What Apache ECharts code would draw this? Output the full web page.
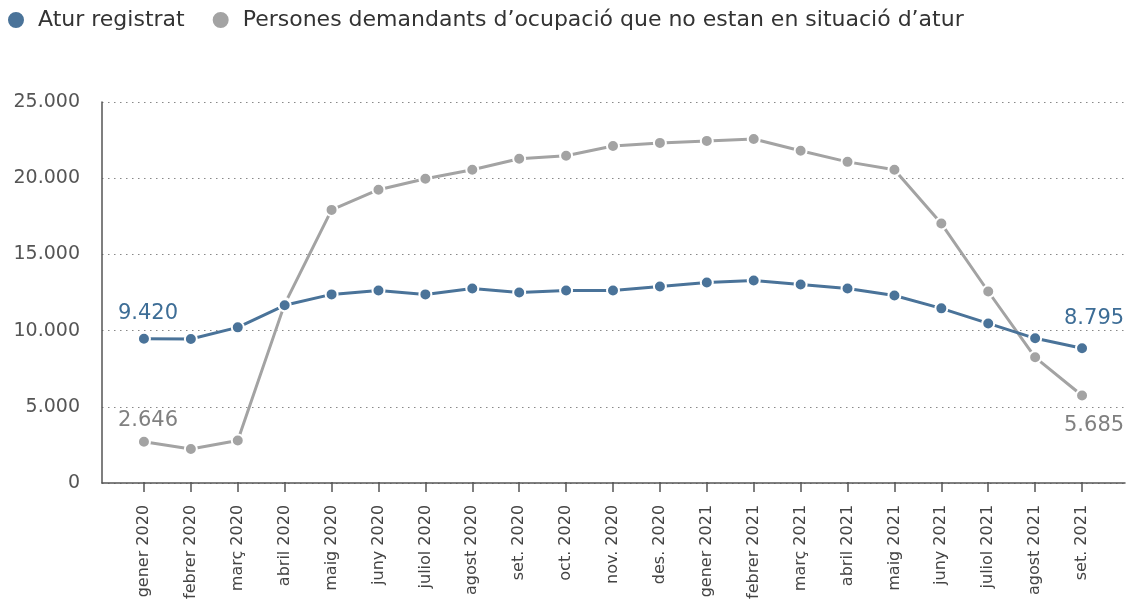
<!DOCTYPE html>
<html>
<head>
<meta charset="utf-8">
<script src="https://cdn.jsdelivr.net/npm/echarts@6/dist/echarts.min.js"></script>
<style>
  html, body { margin: 0; padding: 0; background: #fff; }
  #chart { width: 1133px; height: 602px; }
</style>
</head>
<body>
<div id="chart"></div>
<script>
const months = ['gener 2020', 'febrer 2020', 'març 2020', 'abril 2020', 'maig 2020', 'juny 2020',
  'juliol 2020', 'agost 2020', 'set. 2020', 'oct. 2020', 'nov. 2020', 'des. 2020',
  'gener 2021', 'febrer 2021', 'març 2021', 'abril 2021', 'maig 2021', 'juny 2021',
  'juliol 2021', 'agost 2021', 'set. 2021'];

const aturRegistrat = [9420, 9400, 10170, 11620, 12340, 12600, 12340, 12730, 12470, 12600, 12600,
  12860, 13120, 13250, 12990, 12730, 12270, 11420, 10430, 9450, 8795];

const noAtur = [2646, 2170, 2720, 11700, 17900, 19230, 19950, 20540, 21260, 21460, 22110,
  22310, 22440, 22570, 21790, 21060, 20540, 17000, 12530, 8200, 5685];

const BLUE = '#4a7399';
const GREY = '#a3a3a3';
const FONT = '"DejaVu Sans", "Open Sans", sans-serif';

function fmt(v) {
  return String(v).replace(/\B(?=(\d{3})+(?!\d))/g, '.');
}

// etiquetes només al primer i a l'últim punt
function withEndLabels(values, color, distFirst, distLast, posLast) {
  return values.map((v, i) => {
    if (i === 0 || i === values.length - 1) {
      const above = i === 0 || posLast === 'top';
      return {
        value: v,
        label: {
          show: true,
          position: above ? 'top' : 'bottom',
          distance: i === 0 ? distFirst : distLast,
          offset: i === 0 ? [4, 0] : [12, 0],
          formatter: fmt(v),
          color: color,
          fontSize: 21,
          fontFamily: FONT
        }
      };
    }
    return v;
  });
}

const chart = echarts.init(document.getElementById('chart'));

chart.setOption({
  animation: false,
  textStyle: { fontFamily: FONT },
  legend: {
    left: 6,
    top: 9,
    padding: 0,
    itemGap: 26,
    itemWidth: 18,
    itemHeight: 18,
    icon: 'circle',
    textStyle: { fontSize: 22, color: '#333', fontFamily: FONT, padding: [0, 0, 0, 8] },
    data: ['Atur registrat', 'Persones demandants d\u2019ocupació que no estan en situació d\u2019atur']
  },
  grid: [
    { left: 102, right: 8, top: 102, bottom: 119 },
    { left: 120.5, right: 27.5, top: 102, bottom: 119 }
  ],
  xAxis: [
    {
      gridIndex: 0,
      type: 'value',
      min: 0,
      max: 1,
      axisLine: { show: true, lineStyle: { color: '#555', width: 1.5 } },
      axisTick: { show: false },
      axisLabel: { show: false },
      splitLine: { show: false }
    },
    {
      gridIndex: 1,
      type: 'category',
      data: months,
      axisLine: { show: false },
      axisTick: { show: true, alignWithLabel: true, length: 10, lineStyle: { color: '#555', width: 1.5 } },
      axisLabel: { rotate: 90, margin: 23, fontSize: 16, color: '#444', interval: 0, fontFamily: FONT },
      splitLine: { show: false }
    }
  ],
  yAxis: [
    {
      gridIndex: 0,
      type: 'value',
      min: 0,
      max: 25000,
      interval: 5000,
      axisLine: { show: true, lineStyle: { color: '#555', width: 1.5 } },
      axisTick: { show: false },
      axisLabel: { margin: 22, fontSize: 19, color: '#555', formatter: v => fmt(v), fontFamily: FONT },
      splitLine: { show: true, lineStyle: { type: [1.5, 4.5], color: '#888', width: 1.2 } }
    },
    {
      gridIndex: 1,
      type: 'value',
      min: 0,
      max: 25000,
      show: false
    }
  ],
  series: [
    {
      name: 'Persones demandants d\u2019ocupació que no estan en situació d\u2019atur',
      type: 'line',
      xAxisIndex: 1,
      yAxisIndex: 1,
      data: withEndLabels(noAtur, '#808080', 4, 13, 'bottom'),
      symbol: 'circle',
      symbolSize: 12,
      itemStyle: { color: GREY, borderColor: '#fff', borderWidth: 2 },
      lineStyle: { color: GREY, width: 3 },
      z: 2
    },
    {
      name: 'Atur registrat',
      type: 'line',
      xAxisIndex: 1,
      yAxisIndex: 1,
      data: withEndLabels(aturRegistrat, '#3d6d96', 8, 12, 'top'),
      symbol: 'circle',
      symbolSize: 12,
      itemStyle: { color: BLUE, borderColor: '#fff', borderWidth: 2 },
      lineStyle: { color: BLUE, width: 3 },
      z: 3
    }
  ]
});
</script>
</body>
</html>
